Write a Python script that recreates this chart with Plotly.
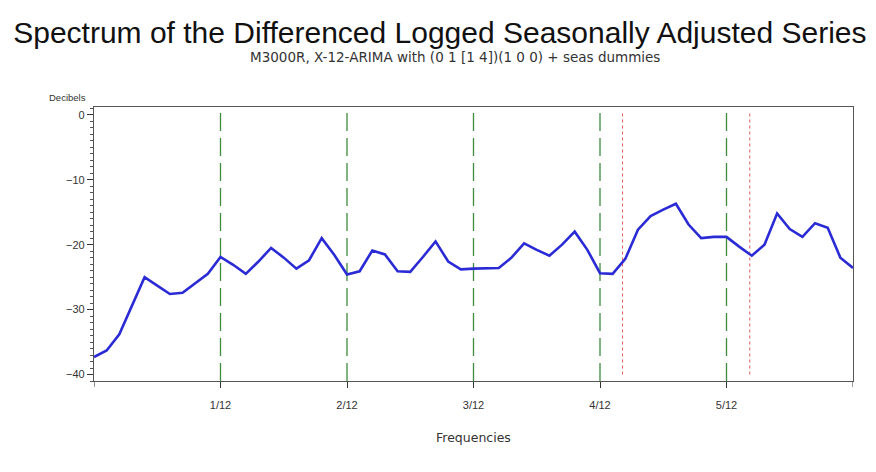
import plotly.graph_objects as go

# Spectrum values (decibels) at frequencies k/120, k = 0..60
freq_index = list(range(61))
decibels = [
    -37.3, -36.3, -33.8, -29.5, -25.0, -26.3, -27.6, -27.4, -25.9, -24.5,
    -21.9, -23.1, -24.5, -22.6, -20.5, -22.0, -23.7, -22.4, -19.0, -21.6,
    -24.6, -24.1, -20.9, -21.5, -24.1, -24.2, -21.9, -19.5, -22.6, -23.8,
    -23.7, -23.7, -23.6, -22.0, -19.8, -20.8, -21.7, -20.0, -18.0, -20.8,
    -24.4, -24.5, -22.2, -17.7, -15.6, -14.6, -13.7, -16.9, -19.0, -18.8,
    -18.8, -20.3, -21.7, -20.0, -15.2, -17.6, -18.8, -16.7, -17.4, -22.0,
    -23.6,
]
frequencies = [k / 120 for k in freq_index]

seasonal_freqs = [1 / 12, 2 / 12, 3 / 12, 4 / 12, 5 / 12]
seasonal_labels = ["1/12", "2/12", "3/12", "4/12", "5/12"]
td_freqs = [0.3482, 0.432]
y_ticks = [0, -10, -20, -30, -40]

fig = go.Figure()
fig.add_trace(go.Scatter(
    x=frequencies, y=decibels, mode="lines",
    line=dict(color="#2b2bd6", width=2.6),
    showlegend=False,
))

for f in seasonal_freqs:
    fig.add_shape(type="line", x0=f, x1=f, yref="paper", y0=0, y1=1,
                  line=dict(color="#3d8c3d", width=1.3, dash="18px,7px"), layer="below")
for f in td_freqs:
    fig.add_shape(type="line", x0=f, x1=f, yref="y", y0=-40, y1=0.5,
                  line=dict(color="#e05a5a", width=1, dash="3px,3px"), layer="below")

fig.update_layout(
    width=876, height=472,
    margin=dict(l=86, r=31, t=99, b=99),
    paper_bgcolor="white", plot_bgcolor="white",
    font=dict(family="Liberation Sans, Arial, sans-serif", color="#222"),
    title=dict(
        text="Spectrum of the Differenced Logged Seasonally Adjusted Series",
        xref="container", x=0.493, xanchor="center",
        yref="container", y=0.949, yanchor="middle",
        font=dict(size=30, color="#111"),
    ),
    showlegend=False,
)
fig.add_annotation(
    text="M3000R, X-12-ARIMA with (0 1 [1 4])(1 0 0) + seas dummies",
    xref="paper", yref="paper", x=0.476, y=1, yshift=50, xanchor="center", yanchor="middle",
    showarrow=False, font=dict(size=13.5, family="DejaVu Sans, sans-serif", color="#333"),
)
fig.add_annotation(
    text="Decibels", xref="paper", yref="paper", x=0, y=1, xshift=-6, yshift=10,
    xanchor="right", yanchor="middle", showarrow=False,
    font=dict(size=9.5, color="#333"),
)
fig.add_annotation(
    text="Frequencies", xref="paper", yref="paper", x=0.5, y=0, yshift=-56,
    xanchor="center", yanchor="middle", showarrow=False,
    font=dict(size=12.5, family="DejaVu Sans, sans-serif", color="#333"),
)

fig.update_xaxes(
    range=[0, 0.5], tickvals=seasonal_freqs, ticktext=seasonal_labels,
    ticks="outside", ticklen=6, tickcolor="#333",
    showline=True, linecolor="#555", linewidth=1.2, mirror=True,
    showgrid=False, zeroline=False,
    tickfont=dict(size=11, color="#333"), ticklabelstandoff=8,
)
fig.update_yaxes(
    range=[-41.0, 1.2], tickvals=y_ticks,
    ticks="outside", ticklen=6, tickcolor="#333",
    minor=dict(dtick=1, ticklen=3, ticks="outside", tickcolor="#555"),
    showline=True, linecolor="#555", linewidth=1.2, mirror=True,
    showgrid=False, zeroline=False,
    tickfont=dict(size=11, color="#333"),
)
# end ticks at 0 and 0.5 on the x axis (unlabelled)
for f in [0, 0.5]:
    fig.add_shape(type="line", x0=f, x1=f, yref="paper", y0=0, y1=-0.022,
                  line=dict(color="#333", width=1))

fig.write_html("out.html")
